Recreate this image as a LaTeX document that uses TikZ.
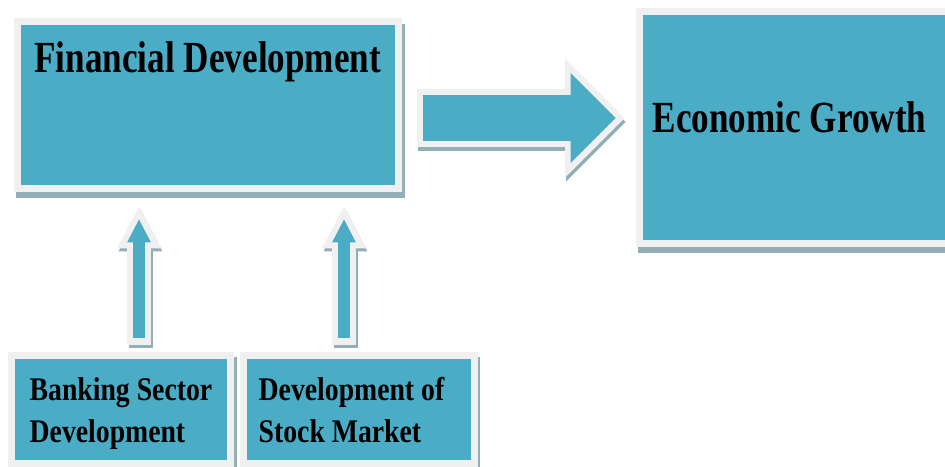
\documentclass[tikz,border=0pt]{standalone}
\usepackage{fontspec}
\setmainfont{Liberation Serif}
\newfontfamily\bigboxfont[FakeStretch=0.79]{Liberation Serif}
\newfontfamily\boxfont[FakeStretch=0.84]{Liberation Serif}
\usepackage{tikz}
\usetikzlibrary{arrows.meta}
\usetikzlibrary{calc}

\definecolor{boxteal}{HTML}{4BACC6}
\definecolor{boxframe}{HTML}{F0F0F0}
\definecolor{boxshade}{HTML}{93AEB7}

\begin{document}
\begin{tikzpicture}[x=1pt, y=1pt,
    box/.style={draw=boxframe, line width=7pt, fill=boxteal, inner sep=0pt,
                preaction={draw=boxshade, fill=boxshade, line width=7pt,
                           transform canvas={shift={(2.5pt,-5.5pt)}}}},
    bigtext/.style={font=\bigboxfont\bfseries\fontsize{44.5}{50}\selectfont, inner sep=0pt},
    smalltext/.style={font=\boxfont\bfseries\fontsize{33}{42}\selectfont, inner sep=0pt, align=left},
    growth/.style={line width=46pt, color=boxteal,
                   -{Triangle[length=45pt, width=90pt, line width=0pt]}},
    growth frame/.style={line width=58pt, color=boxframe,
                   -{Triangle[length=59.5pt, width=119pt, line width=0pt]},
                   shorten <=-6pt, shorten >=-9pt},
    growth shade/.style={growth frame, color=boxshade,
                   transform canvas={shift={(1pt,-4pt)}}},
    lift/.style={line width=12pt, color=boxteal,
                 -{Triangle[length=23pt, width=24pt, line width=0pt]}},
    lift frame/.style={line width=24pt, color=boxframe,
                 -{Triangle[length=42pt, width=44pt, line width=0pt]},
                 shorten <=-7pt, shorten >=-13pt},
    lift shade/.style={lift frame, color=boxshade,
                 transform canvas={shift={(1.5pt,-3pt)}}}]
\useasboundingbox (0,0) rectangle (945,466);

% boxes
\node[box, minimum width=381.5pt, minimum height=167pt]   (fin)   at (207.75,360.5) {};
\node[box, minimum width=316pt,   minimum height=232pt]   (eco)   at (797,338)      {};
\node[box, minimum width=219pt,   minimum height=107.5pt] (bank)  at (121,56.75)    {};
\node[box, minimum width=230.5pt, minimum height=107.5pt] (stock) at (358.75,56.75) {};

\node[bigtext, anchor=base]      (fintext)   at ($(fin.north)+(0,-54)$)         {Financial Development};
\node[bigtext, anchor=base west] (ecotext)   at ($(eco.west)+(17,-5)$)          {Economic Growth};
\node[smalltext, anchor=north west] (banktext)  at ($(bank.north west)+(21.5,-25)$)  {Banking Sector\\Development};
\node[smalltext, anchor=north west] (stocktext) at ($(stock.north west)+(18.5,-25)$) {Development of\\Stock Market};

% block arrows
\coordinate (growthstart) at ($(fin.east)+(20.5,-12.5)$);
\coordinate (growthend)   at ($(eco.west)+(-20,10)$);
\draw[growth shade] (growthstart) -- (growthend);
\draw[growth frame] (growthstart) -- (growthend);
\draw[growth]       (growthstart) -- (growthend);

\coordinate (bankstart) at ($(bank.north)+(18,13.5)$);
\coordinate (bankend)   at ($(bank.north |- fin.south)+(18,-27)$);
\draw[lift shade] (bankstart) -- (bankend);
\draw[lift frame] (bankstart) -- (bankend);
\draw[lift]       (bankstart) -- (bankend);

\coordinate (stockstart) at ($(stock.north)+(-14.75,13.5)$);
\coordinate (stockend)   at ($(stock.north |- fin.south)+(-14.75,-27)$);
\draw[lift shade] (stockstart) -- (stockend);
\draw[lift frame] (stockstart) -- (stockend);
\draw[lift]       (stockstart) -- (stockend);
\end{tikzpicture}
\end{document}
